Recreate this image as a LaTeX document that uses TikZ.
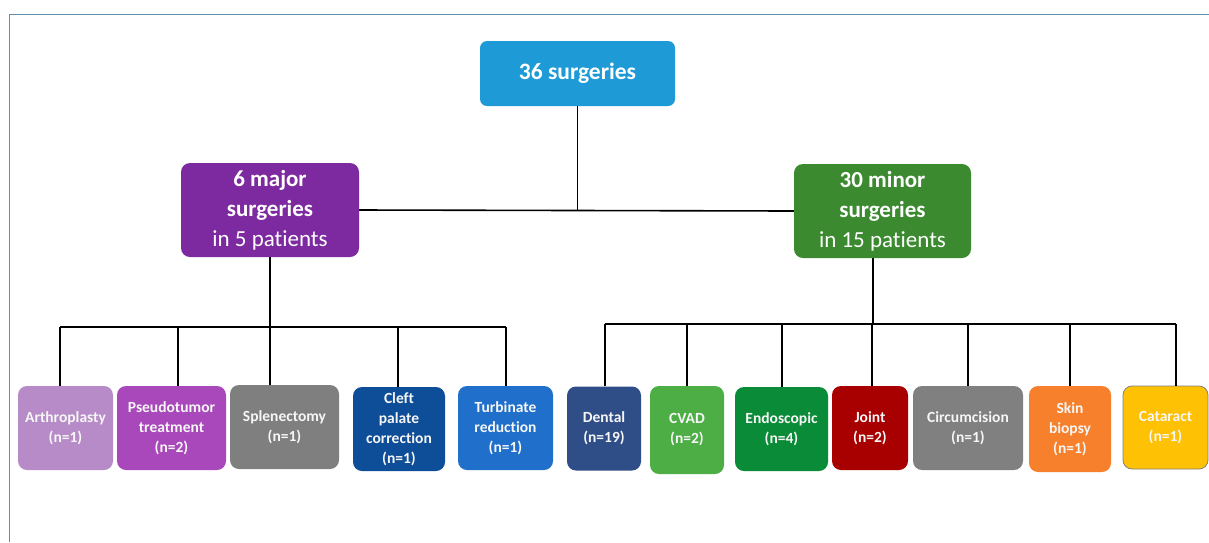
\documentclass[tikz,border=0pt]{standalone}
\usepackage{fontspec}
\setmainfont[Ligatures=CommonOff]{Carlito}
\usepackage{tikz}
\usetikzlibrary{calc}
\usetikzlibrary{positioning}

\definecolor{framec}{HTML}{5F8FAA}
\definecolor{topc}{HTML}{1E9BD7}
\definecolor{majc}{HTML}{7D2AA0}
\definecolor{minc}{HTML}{3B8A2F}
\definecolor{arthc}{HTML}{B78BC8}
\definecolor{pseuc}{HTML}{A848BA}
\definecolor{splec}{HTML}{7F7F7F}
\definecolor{cleftc}{HTML}{0E4D97}
\definecolor{turbc}{HTML}{1F6FCB}
\definecolor{dentc}{HTML}{2F4D87}
\definecolor{cvadc}{HTML}{4DAE46}
\definecolor{endoc}{HTML}{0A8B37}
\definecolor{jointc}{HTML}{A80000}
\definecolor{circc}{HTML}{808080}
\definecolor{skinc}{HTML}{F6802B}
\definecolor{catc}{HTML}{FFC103}

\begin{document}
\begin{tikzpicture}[x=1pt, y=-1pt,
  every node/.style={rectangle, rounded corners=9pt, inner sep=1pt, align=center},
  head/.style={text=white, font=\fontsize{23}{30}\selectfont},
  leaf/.style={text=white!93!gray, font=\fontsize{15.5}{20}\selectfont\bfseries, minimum height=84pt},
  link/.style={line width=1.6pt}]
\useasboundingbox (0,0) rectangle (1209,542);
\draw[framec, line width=1pt] (9,542) -- (9,14) -- (1209,14);
% top levels
\node[head, fill=topc, minimum width=195pt, minimum height=65pt, font=\fontsize{23.5}{30}\selectfont\bfseries, rounded corners=7pt] (S0) at (577.5,73.5) {36 surgeries};
\node[head, fill=majc, minimum width=178pt, minimum height=94pt] (SMaj) at (270,210) {\textbf{6 major}\\\textbf{surgeries}\\in 5 patients};
\node[head, fill=minc, minimum width=177pt, minimum height=94pt] (SMin) at (882.5,211) {\textbf{30 minor}\\\textbf{surgeries}\\in 15 patients};
% major surgeries
\node[leaf, fill=arthc, minimum width=95pt] (M1) at (65.5,428) {Arthroplasty\\(n=1)};
\node[leaf, fill=pseuc, minimum width=109pt] (M2) at (171.5,428) {Pseudotumor\\treatment\\(n=2)};
\node[leaf, fill=splec, minimum width=109pt] (M3) at (284.5,427) {Splenectomy\\(n=1)};
\node[leaf, fill=cleftc, minimum width=92pt] (M4) at (399,429) {Cleft\\palate\\correction\\(n=1)};
\node[leaf, fill=turbc, minimum width=95pt] (M5) at (505.5,428) {Turbinate\\reduction\\(n=1)};
% minor surgeries
\node[leaf, fill=dentc, minimum width=74pt] (m1) at (604,428.5) {Dental\\(n=19)};
\node[leaf, fill=cvadc, minimum width=74pt, minimum height=88pt] (m2) at (687,430) {CVAD\\(n=2)};
\node[leaf, fill=endoc, minimum width=93pt] (m3) at (781.5,429) {Endoscopic\\(n=4)};
\node[leaf, fill=jointc, minimum width=76pt] (m4) at (870,428) {Joint\\(n=2)};
\node[leaf, fill=circc, minimum width=110pt] (m5) at (968,428) {Circumcision\\(n=1)};
\node[leaf, fill=skinc, minimum width=82pt, minimum height=86pt] (m6) at (1070,429) {Skin\\biopsy\\(n=1)};
\node[leaf, fill=catc, draw=gray, line width=0.8pt, minimum width=85pt, minimum height=83pt] (m7) at (1165.5,427.5) {Cataract\\(n=1)};
\coordinate (BMaj) at (0,327);
\coordinate (BMin) at (0,324);
% connectors
\draw[link] (SMaj.east) -- (SMin.west);
\draw[link] (S0.south) -- (S0.south |- SMaj.east);
\draw[link] (SMaj.south) -- (SMaj.south |- BMaj);
\draw[link] ([xshift=-9.5pt]SMin.south) -- ([xshift=-9.5pt]SMin.south |- BMin);
\draw[link] ([xshift=-5.5pt]M1.north |- BMaj) -- ([xshift=0.5pt]M5.north |- BMaj);
\draw[link] ([xshift=1pt]m1.north |- BMin) -- ([xshift=10.5pt]m7.north |- BMin);
\foreach \b/\s in {M1/-5.5, M2/6.5, M3/-14.5, M4/-1, M5/0.5}
  \draw[link] ([xshift=\s pt]\b.north) -- ([xshift=\s pt]\b.north |- BMaj);
\foreach \b/\s in {m1/1, m2/0, m3/0.5, m4/2, m5/0, m6/0, m7/10.5}
  \draw[link] ([xshift=\s pt]\b.north) -- ([xshift=\s pt]\b.north |- BMin);
\end{tikzpicture}
\end{document}
